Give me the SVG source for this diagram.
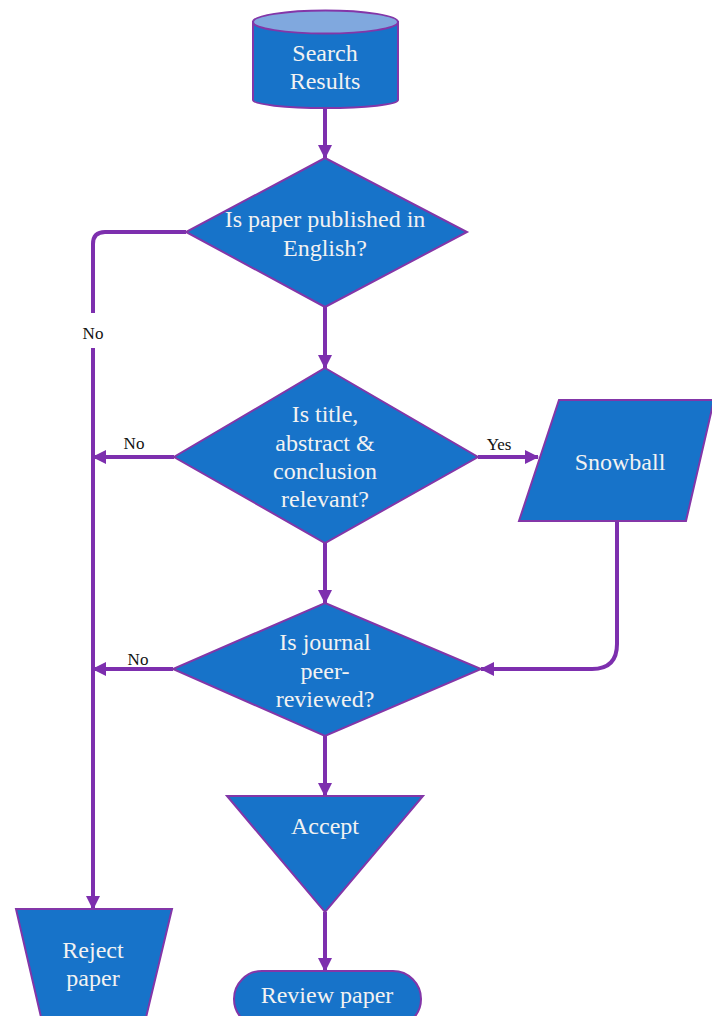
<svg xmlns="http://www.w3.org/2000/svg" width="712" height="1016" viewBox="0 0 712 1016">
  <style>
    .shape { fill: #1773C9; stroke: #8336A8; stroke-width: 2; }
    .cap { fill: #80A8DE; stroke: #8336A8; stroke-width: 2; }
    text { font-family: 'Liberation Serif', 'DejaVu Serif', serif; }
    .txt { font-size: 24px; fill: #F2F2F2; text-anchor: middle; }
    .lbl { font-size: 17px; fill: #111111; text-anchor: middle; }
    .conn { fill: none; stroke: #7D2FAE; stroke-width: 4; }
  </style>
  <defs>
    <marker id="arrow" markerUnits="userSpaceOnUse" markerWidth="14" markerHeight="14" refX="13" refY="7" orient="auto">
      <path d="M0,0 L14,7 L0,14 Z" fill="#7D2FAE"/>
    </marker>
  </defs>
  <rect width="712" height="1016" fill="#FFFFFF"/>

  <g id="connectors">
    <!-- main spine -->
    <line class="conn" x1="325" y1="106" x2="325" y2="158" marker-end="url(#arrow)"/>
    <line class="conn" x1="325" y1="307" x2="325" y2="368" marker-end="url(#arrow)"/>
    <line class="conn" x1="325" y1="543" x2="325" y2="603" marker-end="url(#arrow)"/>
    <line class="conn" x1="325" y1="736" x2="325" y2="796" marker-end="url(#arrow)"/>
    <line class="conn" x1="325" y1="912" x2="325" y2="971" marker-end="url(#arrow)"/>
    <!-- reject branch from first decision -->
    <path class="conn" d="M186,232 L105,232 Q93,232 93,244 L93,313"/>
    <line class="conn" x1="93" y1="348" x2="93" y2="909" marker-end="url(#arrow)"/>
    <text class="lbl" x="93" y="339">No</text>
    <!-- No branches -->
    <line class="conn" x1="174" y1="457" x2="93" y2="457" marker-end="url(#arrow)"/>
    <text class="lbl" x="134" y="449">No</text>
    <line class="conn" x1="173" y1="669" x2="93" y2="669" marker-end="url(#arrow)"/>
    <text class="lbl" x="138" y="665">No</text>
    <!-- Yes to snowball -->
    <line class="conn" x1="478" y1="457" x2="538" y2="457" marker-end="url(#arrow)"/>
    <text class="lbl" x="499" y="450">Yes</text>
    <!-- snowball back to peer-review decision -->
    <path class="conn" d="M617,521 L617,644 Q617,669 592,669 L481,669" marker-end="url(#arrow)"/>
  </g>

  <g id="search-results">
    <path class="shape" d="M253,22 L253,100 A72.5,8 0 0 0 398,100 L398,22 Z"/>
    <ellipse class="cap" cx="325.5" cy="22" rx="72.5" ry="11.5"/>
    <text class="txt" x="325" y="61">Search</text>
    <text class="txt" x="325" y="89">Results</text>
  </g>

  <g id="english-decision">
    <polygon class="shape" points="325,158 467,232 325,307 186,232"/>
    <text class="txt" x="325" y="227">Is paper published in</text>
    <text class="txt" x="325" y="256">English?</text>
  </g>

  <g id="relevance-decision">
    <polygon class="shape" points="325,368 478,457 325,543 174,457"/>
    <text class="txt" x="325" y="422">Is title,</text>
    <text class="txt" x="325" y="451">abstract &amp;</text>
    <text class="txt" x="325" y="479">conclusion</text>
    <text class="txt" x="325" y="507">relevant?</text>
  </g>

  <g id="snowball">
    <polygon class="shape" points="559,400 714,400 686,521 519,521"/>
    <text class="txt" x="620" y="470">Snowball</text>
  </g>

  <g id="peer-review-decision">
    <polygon class="shape" points="325,603 481,669 325,736 173,669"/>
    <text class="txt" x="325" y="650">Is journal</text>
    <text class="txt" x="325" y="679">peer-</text>
    <text class="txt" x="325" y="707">reviewed?</text>
  </g>

  <g id="accept">
    <polygon class="shape" points="227,796 423,796 325,912"/>
    <text class="txt" x="325" y="834">Accept</text>
  </g>

  <g id="review-paper">
    <rect class="shape" x="234" y="971" width="187" height="56" rx="28" ry="28"/>
    <text class="txt" x="327" y="1003">Review paper</text>
  </g>

  <g id="reject-paper">
    <polygon class="shape" points="16,909 172,909 143,1030 44,1030"/>
    <text class="txt" x="93" y="958">Reject</text>
    <text class="txt" x="93" y="986">paper</text>
  </g>
</svg>
